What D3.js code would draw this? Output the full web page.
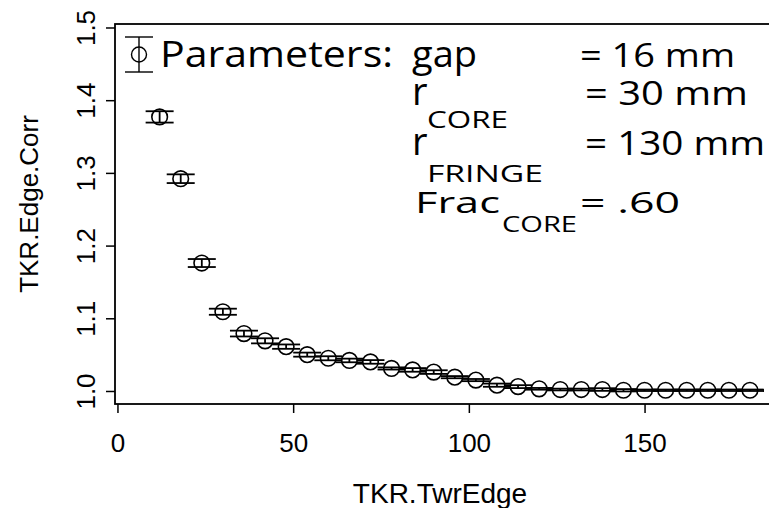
<!DOCTYPE html>
<html>
<head>
<meta charset="utf-8">
<script src="https://cdn.jsdelivr.net/npm/d3@7"></script>
<style>
  body { margin: 0; background: #fff; }
  svg { display: block; }
  .axis text { font-family: "Liberation Sans", Arial, sans-serif; font-size: 26px; fill: #000; }
  .axis line { stroke: #000; stroke-width: 1.5; }
  .title { font-family: "Liberation Sans", Arial, sans-serif; fill: #000; }
  .legend text { font-family: "Open Sans", "DejaVu Sans", sans-serif; font-weight: 400; fill: #000; }
</style>
</head>
<body>
<svg width="769" height="508"></svg>
<script>
// TKR edge correction vs tower edge distance
var twrEdge = [12, 18, 24, 30, 36, 42, 48, 54, 60, 66, 72, 78, 84, 90, 96, 102,
               108, 114, 120, 126, 132, 138, 144, 150, 156, 162, 168, 174, 180];
var edgeCorr = [1.377, 1.292, 1.176, 1.109, 1.079, 1.069, 1.061, 1.050, 1.045, 1.042,
                1.040, 1.031, 1.029, 1.026, 1.019, 1.015, 1.008, 1.006, 1.003, 1.002,
                1.002, 1.002, 1.001, 1.001, 1.001, 1.001, 1.001, 1.001, 1.001];
var edgeErr = [0.0078, 0.006, 0.0055, 0.0042, 0.004, 0.0035, 0.003, 0.0028, 0.0028, 0.0025,
               0.0025, 0.0015, 0.0025, 0.0025, 0.0015, 0.0015, 0.0022, 0.002, 0.0012, 0.0012,
               0.0012, 0.0018, 0.0016, 0.001, 0.001, 0.001, 0.001, 0.001, 0.001];

var xTicks = [0, 50, 100, 150];
var yTicks = [1.0, 1.1, 1.2, 1.3, 1.4, 1.5];

var legendNames = ["gap", "r", "r", "Frac"];
var legendSubs = ["", "CORE", "FRINGE", "CORE"];
var legendValues = ["= 16 mm", "= 30 mm", "= 130 mm", "= .60"];

var svg = d3.select("svg"),
    box = {left: 115, top: 24, right: 770, bottom: 404};

var x = d3.scaleLinear()
    .domain([-0.7, 185.7])
    .range([box.left, box.right]);

var y = d3.scaleLinear()
    .domain([0.9821, 1.5048])
    .range([box.bottom, box.top]);

// plot frame
svg.append("rect")
    .attr("x", box.left)
    .attr("y", box.top)
    .attr("width", box.right - box.left)
    .attr("height", box.bottom - box.top)
    .attr("fill", "none")
    .attr("stroke", "#000")
    .attr("stroke-width", 1.8);

svg.append("g")
    .attr("class", "axis")
    .attr("transform", "translate(0," + box.bottom + ")")
    .call(d3.axisBottom(x).tickValues(xTicks).tickSize(9).tickFormat(d3.format("d")))
    .call(function (g) { g.select(".domain").remove(); })
  .selectAll("text")
    .attr("y", 48)
    .attr("dy", 0);

svg.append("g")
    .attr("class", "axis")
    .attr("transform", "translate(" + box.left + ",0)")
    .call(d3.axisLeft(y).tickValues(yTicks).tickSize(9).tickFormat(d3.format(".1f")))
    .call(function (g) { g.select(".domain").remove(); })
  .selectAll("text")
    .attr("transform", "rotate(-90)")
    .attr("x", 0)
    .attr("y", -20)
    .attr("dy", 0)
    .attr("text-anchor", "middle");

svg.append("text")
    .attr("class", "title")
    .attr("x", 440)
    .attr("y", 503)
    .attr("text-anchor", "middle")
    .style("font-size", "28px")
    .text("TKR.TwrEdge");

svg.append("text")
    .attr("class", "title")
    .attr("transform", "translate(38,204) rotate(-90)")
    .attr("text-anchor", "middle")
    .style("font-size", "26px")
    .text("TKR.Edge.Corr");

// error bars + points
var data = twrEdge.map(function (d, i) {
  return {x: d, y: edgeCorr[i], e: edgeErr[i]};
});

var pts = svg.append("g")
    .attr("stroke", "#000")
    .attr("fill", "none")
  .selectAll("g")
  .data(data)
  .enter().append("g");

pts.append("line")
    .attr("x1", function (d) { return x(d.x); })
    .attr("x2", function (d) { return x(d.x); })
    .attr("y1", function (d) { return y(d.y - d.e); })
    .attr("y2", function (d) { return y(d.y + d.e); })
    .attr("stroke-width", 1.8);

[-1, 1].forEach(function (s) {
  pts.append("line")
      .attr("x1", function (d) { return x(d.x) - 14; })
      .attr("x2", function (d) { return x(d.x) + 14; })
      .attr("y1", function (d) { return y(d.y + s * d.e); })
      .attr("y2", function (d) { return y(d.y + s * d.e); })
      .attr("stroke-width", 1.8);
});

pts.append("circle")
    .attr("cx", function (d) { return x(d.x); })
    .attr("cy", function (d) { return y(d.y); })
    .attr("r", 7.8)
    .attr("stroke-width", 1.6);

// legend
var lg = svg.append("g").attr("class", "legend");

var sym = lg.append("g").attr("stroke", "#000").attr("fill", "none").attr("stroke-width", 1.4);
sym.append("line").attr("x1", 139).attr("x2", 139).attr("y1", 37).attr("y2", 72);
sym.append("line").attr("x1", 125).attr("x2", 153).attr("y1", 37).attr("y2", 37);
sym.append("line").attr("x1", 125).attr("x2", 153).attr("y1", 72).attr("y2", 72);
sym.append("circle").attr("cx", 139).attr("cy", 54.5).attr("r", 7.5);

function piece(txt, px, py, size, len) {
  var t = lg.append("text")
      .attr("x", px)
      .attr("y", py)
      .style("font-size", size + "px")
      .text(txt);
  if (len) t.attr("textLength", len).attr("lengthAdjust", "spacingAndGlyphs");
  return t;
}

piece("Parameters:", 160, 66.7, 36, 233);

var rows = [
  {base: 66.7, nameSize: 36, nameLen: 65, subBase: 0, subSize: 0, subLen: 0, valX: 580, valSize: 32, valLen: 155},
  {base: 105, nameSize: 38, nameLen: 0, subBase: 128.3, subSize: 23, subLen: 81, valX: 585, valSize: 32, valLen: 163},
  {base: 155, nameSize: 38, nameLen: 0, subBase: 181.7, subSize: 23, subLen: 116, valX: 585, valSize: 32, valLen: 180},
  {base: 213.3, nameSize: 30, nameLen: 85, subBase: 232, subSize: 21, subLen: 75, valX: 580, valSize: 30, valLen: 100}
];

rows.forEach(function (r, i) {
  var nx = i === 3 ? 415 : 412;
  piece(legendNames[i], nx, r.base, r.nameSize, r.nameLen);
  if (legendSubs[i]) {
    piece(legendSubs[i], i === 3 ? 502 : 427, r.subBase, r.subSize, r.subLen);
  }
  piece(legendValues[i], r.valX, r.base, r.valSize, r.valLen);
});
</script>
</body>
</html>
